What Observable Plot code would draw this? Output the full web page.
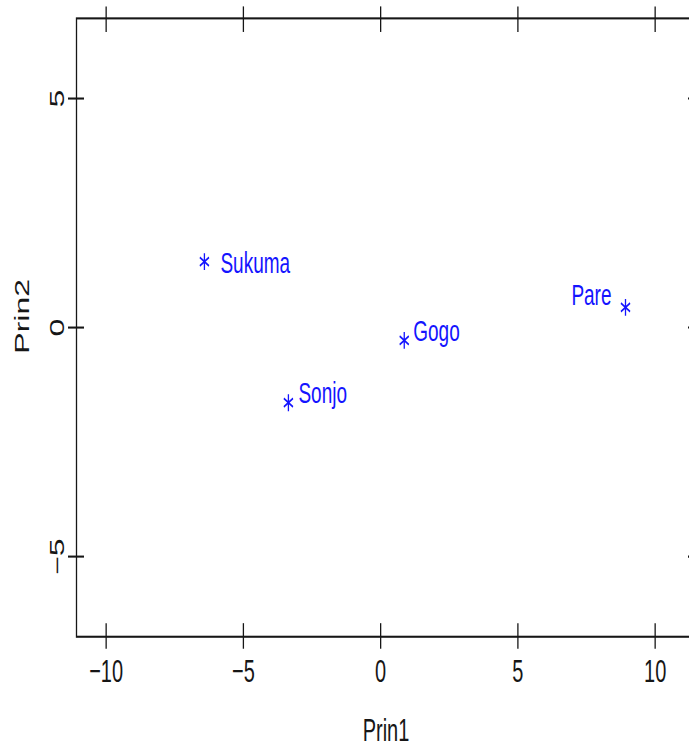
<!DOCTYPE html>
<html>
<head>
<meta charset="utf-8">
<script src="https://cdn.jsdelivr.net/npm/d3@7"></script>
<script src="https://cdn.jsdelivr.net/npm/@observablehq/plot@0.6"></script>
<style>
  html, body { margin: 0; padding: 0; background: #fff; overflow: hidden; }
  #chart svg { display: block; overflow: hidden; }
</style>
</head>
<body>
<div id="chart"></div>
<script>
// Principal component scores for each tribe
const tribes = ["Sukuma", "Gogo", "Sonjo", "Pare"];
const prin1 = [-6.42, 0.86, -3.36, 8.92];
const prin2 = [1.44, -0.28, -1.64, 0.44];

// Axis ticks and their labels
const xTicks = [-10, -5, 0, 5, 10];
const xTickLabels = ["−10", "−5", "0", "5", "10"];
const yTicks = [-5, 0, 5];
const yTickLabels = ["−5", "0", "5"];

const rows = tribes.map((name, i) => ({name, prin1: prin1[i], prin2: prin2[i]}));

// The plot is laid out at a shorter height and then stretched vertically
const W = 689, H = 470, SHOWN_H = 751;
const font = "'Liberation Sans', Arial, Helvetica, sans-serif";
const blue = "#1414ff";
const ink = "#161616";
const sw = 1.3;

// Where each name sits relative to its asterisk
const placements = [
  {name: "Sukuma", dx: 16, dy: 1, anchor: "start"},
  {name: "Gogo", dx: 9, dy: -6, anchor: "start"},
  {name: "Sonjo", dx: 10, dy: -6, anchor: "start"},
  {name: "Pare", dx: -14, dy: -7.5, anchor: "end"}
];

const chart = Plot.plot({
  width: W,
  height: H,
  marginLeft: 76,
  marginRight: -6,
  marginTop: 11,
  marginBottom: 72,
  style: {fontFamily: font, background: "#fff", color: ink},
  x: {domain: [-11.08, 11.47]},
  y: {domain: [-6.75, 6.75]},
  marks: [
    Plot.frame({stroke: ink, strokeWidth: sw}),
    // tick marks crossing every side of the frame
    Plot.axisX(xTicks, {anchor: "bottom", tickSize: 16, dy: -8, fill: "none", label: null, strokeWidth: sw}),
    Plot.axisX(xTicks, {anchor: "top", tickSize: 16, dy: 8, fill: "none", label: null, strokeWidth: sw}),
    Plot.axisY(yTicks, {anchor: "left", tickSize: 16, dx: 8, fill: "none", label: null, strokeWidth: sw}),
    Plot.axisY(yTicks, {anchor: "right", tickSize: 16, dx: -8, fill: "none", label: null, strokeWidth: sw}),
    // tick labels and axis titles
    Plot.axisX(xTicks, {
      anchor: "bottom", tickSize: 0, tickPadding: 14,
      tickFormat: d => xTickLabels[xTicks.indexOf(d)],
      fontSize: 20, fill: ink,
      label: "Prin1", labelAnchor: "center", labelOffset: 65, labelArrow: "none"
    }),
    Plot.axisY(yTicks, {
      anchor: "left", tickSize: 0, tickPadding: 13, tickRotate: -90,
      tickFormat: d => yTickLabels[yTicks.indexOf(d)],
      fontSize: 20, fill: ink, label: null
    }),
    Plot.text(["Prin2"], {
      frameAnchor: "left", rotate: -90, lineAnchor: "top", textAnchor: "middle",
      dx: -62, dy: -7, fontSize: 20, fill: ink
    }),
    // the observations
    Plot.dot(rows, {x: "prin1", y: "prin2", symbol: "asterisk", r: 5, stroke: blue, strokeWidth: sw}),
    ...placements.map(p => Plot.text(rows, {
      filter: d => d.name === p.name,
      x: "prin1", y: "prin2", text: "name",
      dx: p.dx, dy: p.dy, textAnchor: p.anchor,
      fill: blue, fontSize: 19
    }))
  ]
});

chart.setAttribute("preserveAspectRatio", "none");
chart.setAttribute("height", SHOWN_H);
chart.style.width = W + "px";
chart.style.height = SHOWN_H + "px";
chart.style.maxWidth = "none";
chart.style.overflow = "hidden";
document.getElementById("chart").appendChild(chart);
</script>
</body>
</html>
